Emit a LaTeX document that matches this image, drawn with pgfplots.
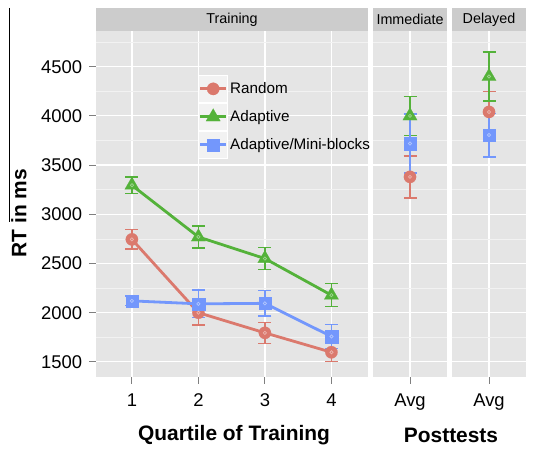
\documentclass[border=0pt]{standalone}
\usepackage{fontspec}
\setmainfont{Liberation Sans}
\usepackage{pgfplots}
\pgfplotsset{compat=1.18}
\usepackage{pgfplotstable}

\definecolor{cR}{RGB}{219,121,109}
\definecolor{cG}{RGB}{84,178,58}
\definecolor{cB}{RGB}{115,151,252}
\definecolor{panel}{RGB}{229,229,229}
\definecolor{stripc}{RGB}{204,204,204}
\definecolor{minorg}{RGB}{242,242,242}
\definecolor{tickc}{RGB}{127,127,127}

\pgfplotstableread{
x r re a ae m me
1 2745 98 3295 83 2120 50
2 2000 125 2770 112 2090 140
3 1795 105 2550 110 2095 128
4 1598 97 2178 118 1758 120
}\train
\pgfplotstableread{
x r re a ae m me
0 3380 213 4000 197 3720 300
}\imm
\pgfplotstableread{
x r re a ae m me
0 4040 205 4400 250 3805 222
}\del

\pgfplotsset{
 panelstyle/.style={
  scale only axis, height=345.5bp, ymin=1346.5, ymax=4857.5,
  axis background/.style={fill=panel}, axis line style={draw=none},
  grid=both, major grid style={white, line width=1.2bp},
  minor grid style={minorg, line width=0.7bp},
  ytick={1500,2000,...,4500}, minor ytick={1750,2250,...,4750},
  tick align=outside, major tick length=6.7bp, minor tick length=0pt,
  tick style={tickc, line width=1bp},
  xtick pos=bottom, ytick pos=left,
  ticklabel style={font=\fontsize{18.5}{18.5}\selectfont},
  /pgf/number format/assume math mode=true, /pgf/number format/1000 sep={},
  xticklabel style={inner sep=0pt, yshift=-10bp},
  yticklabel style={inner sep=0pt, xshift=-7bp},
  clip=false,
 },
 legkey/.style={legend image code/.code={
   \fill[minorg, draw=none] (0bp,-13.5bp) rectangle (29bp,13.5bp);
   \draw[white, fill=none, line width=1bp] (0bp,-13.5bp) rectangle (29bp,13.5bp);
   \draw[mark repeat=2, mark phase=2, ##1] plot coordinates {(1.5bp,0bp) (14.5bp,0bp) (27.5bp,0bp)};
 }},
 sR/.style={cR, line width=2.8bp, mark=*, mark size=6.2bp, mark options={solid, fill=cR, draw=cR, line width=0.1bp}},
 sG/.style={cG, line width=2.8bp, mark=triangle*, mark size=8.3bp, mark options={solid, fill=cG, draw=cG, line width=0.1bp}},
 sB/.style={cB, line width=2.8bp, mark=square*, mark size=6.2bp, mark options={solid, fill=cB, draw=cB, line width=0.1bp}},
 eb/.style={error bars/.cd, y dir=both, y explicit,
   error bar style={line width=1.3bp, #1},
   error mark options={#1, mark size=6.5bp, line width=1.3bp, rotate=90}},
 dot/.style={only marks, mark=o, mark size=1.6bp, mark options={draw=white, draw opacity=0.45, line width=0.7bp}, forget plot},
}

\begin{document}
\begin{tikzpicture}
\useasboundingbox (0bp,0bp) rectangle (534bp,449bp);

% Training panel
\begin{axis}[panelstyle, at={(96bp,72bp)}, anchor=south west, width=272bp,
  xmin=0.46, xmax=4.55, xtick={1,2,3,4},
  legend style={at={(0.375,0.875)}, anchor=north west, draw=none, fill=none,
    inner sep=0pt, row sep=0pt, column sep=2bp,
    font=\fontsize{15.3}{15.3}\selectfont, nodes={inner sep=0pt}},
  legend cell align=left]
\addplot[sR, legkey, eb=cR] table[x=x, y=r, y error=re]{\train};
\addlegendentry{Random}
\addplot[sG, legkey, eb=cG] table[x=x, y=a, y error=ae]{\train};
\addlegendentry{Adaptive}
\addplot[sB, legkey, eb=cB] table[x=x, y=m, y error=me]{\train};
\addlegendentry{Adaptive/Mini-blocks}
\addplot[dot] table[x=x, y=r]{\train};
\addplot[dot] table[x=x, y=a]{\train};
\addplot[dot] table[x=x, y=m]{\train};
\end{axis}

% Immediate panel
\begin{axis}[panelstyle, at={(373bp,72bp)}, anchor=south west, width=74bp,
  xmin=-0.6, xmax=0.6, xtick={0}, xticklabels={Avg}, yticklabels={},
  ytick style={draw=none}]
\addplot[sR, eb=cR] table[x=x, y=r, y error=re]{\imm};
\addplot[sG, eb=cG] table[x=x, y=a, y error=ae]{\imm};
\addplot[sB, eb=cB] table[x=x, y=m, y error=me]{\imm};
\addplot[dot] table[x=x, y=r]{\imm};
\addplot[dot] table[x=x, y=a]{\imm};
\addplot[dot] table[x=x, y=m]{\imm};
\end{axis}

% Delayed panel
\begin{axis}[panelstyle, at={(452bp,72bp)}, anchor=south west, width=74bp,
  xmin=-0.6, xmax=0.6, xtick={0}, xticklabels={Avg}, yticklabels={},
  ytick style={draw=none}]
\addplot[sR, eb=cR] table[x=x, y=r, y error=re]{\del};
\addplot[sG, eb=cG] table[x=x, y=a, y error=ae]{\del};
\addplot[sB, eb=cB] table[x=x, y=m, y error=me]{\del};
\addplot[dot] table[x=x, y=r]{\del};
\addplot[dot] table[x=x, y=a]{\del};
\addplot[dot] table[x=x, y=m]{\del};
\end{axis}

% strips
\fill[stripc] (96bp,418bp) rectangle (368bp,441bp);
\fill[stripc] (373bp,418bp) rectangle (447bp,441bp);
\fill[stripc] (452bp,418bp) rectangle (526bp,441bp);
\node[font=\fontsize{14.4}{14.4}\selectfont] at (232bp,429.5bp) {Training};
\node[font=\fontsize{14.4}{14.4}\selectfont] at (410bp,429.5bp) {Immediate};
\node[font=\fontsize{14.4}{14.4}\selectfont] at (489bp,429.5bp) {Delayed};

% axis titles
\node[font=\bfseries\fontsize{21}{21}\selectfont, rotate=90] at (19bp,236bp) {RT in ms};
\node[font=\bfseries\fontsize{21}{21}\selectfont] at (234bp,14bp) {Quartile of Training};
\node[font=\bfseries\fontsize{21}{21}\selectfont] at (451bp,14bp) {Posttests};

\draw[black, line width=1bp] (9bp,441bp) -- (9bp,227bp);
\end{tikzpicture}
\end{document}
